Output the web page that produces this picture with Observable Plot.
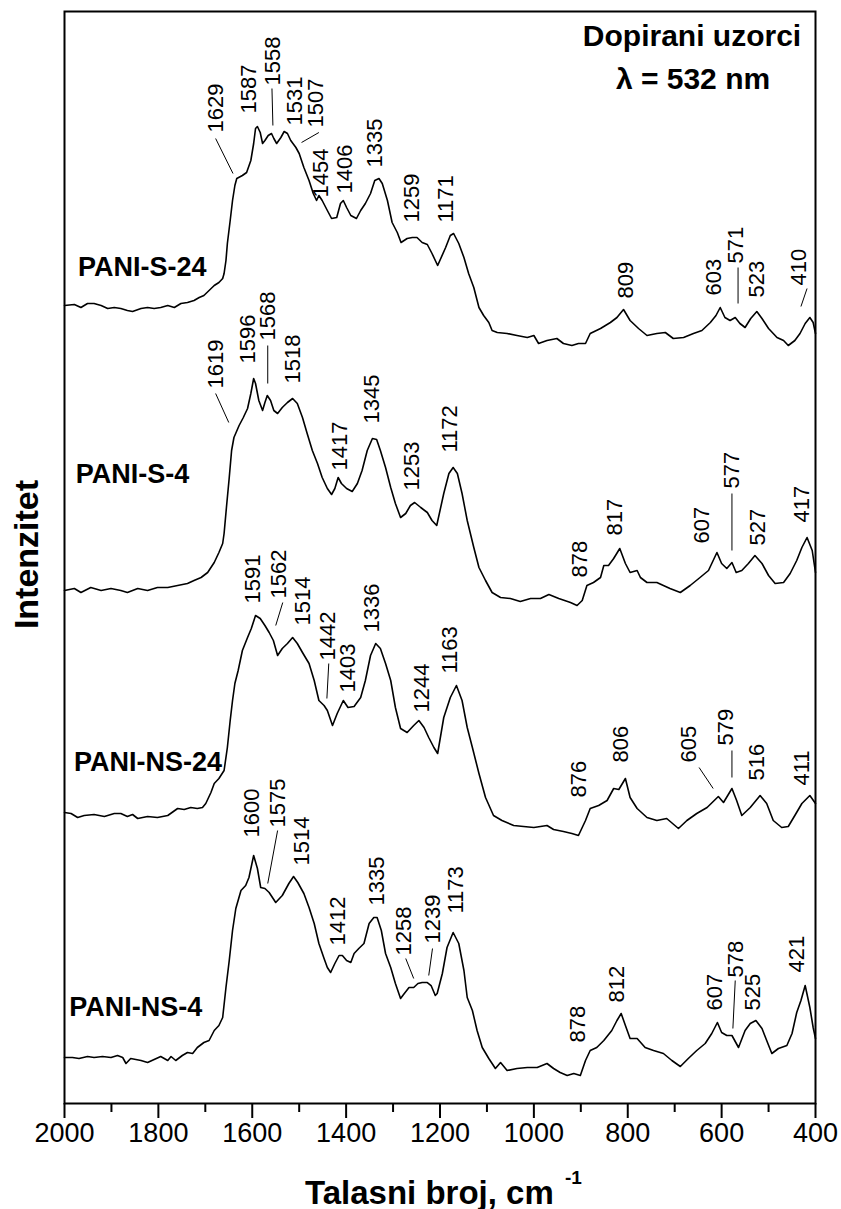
<!DOCTYPE html>
<html>
<head>
<meta charset="utf-8">
<script src="https://cdn.jsdelivr.net/npm/d3@7"></script>
<script src="https://cdn.jsdelivr.net/npm/@observablehq/plot@0.6"></script>
<style>
  html, body { margin: 0; padding: 0; background: #fff; }
  #chart svg { display: block; }
</style>
</head>
<body>
<div id="chart"></div>
<script>
// ---- data: [wavenumber (cm-1), intensity (a.u., stacked offset)] ----
const pani_s_24 = [[2000,798],[1979,799],[1965,796],[1951,800],[1937,800],[1922,798],[1908,795],[1894,796],[1880,795],[1866,793],[1855,792],[1837,795],[1823,796],[1809,795],[1795,796],[1780,798],[1766,796],[1752,800],[1738,801],[1724,803],[1713,806],[1703,808],[1692,813],[1681,818],[1671,821],[1663,825],[1660,830],[1656,843],[1653,860],[1647,883],[1642,903],[1637,918],[1633,925],[1621,928],[1612,931],[1603,943],[1597,960],[1593,975],[1589,977],[1583,971],[1578,960],[1573,963],[1566,968],[1559,970],[1554,965],[1548,960],[1539,966],[1532,972],[1525,970],[1518,963],[1507,956],[1500,950],[1490,936],[1479,923],[1470,910],[1463,903],[1458,908],[1451,903],[1440,893],[1431,885],[1420,886],[1412,900],[1406,903],[1399,896],[1390,888],[1378,885],[1369,893],[1359,900],[1348,910],[1339,923],[1330,925],[1323,920],[1312,903],[1302,881],[1291,871],[1283,861],[1270,865],[1259,866],[1249,866],[1238,861],[1227,859],[1217,850],[1205,838],[1188,856],[1178,868],[1171,870],[1160,860],[1149,846],[1139,830],[1128,816],[1117,796],[1107,788],[1096,781],[1089,773],[1078,771],[1057,770],[1036,768],[1014,766],[1000,768],[990,760],[972,763],[951,765],[937,760],[919,758],[905,760],[890,760],[880,770],[858,775],[837,781],[823,786],[809,794],[795,783],[777,775],[759,768],[738,770],[720,771],[703,765],[681,766],[660,770],[642,773],[624,781],[612,788],[603,796],[593,786],[582,783],[571,786],[561,780],[550,776],[538,785],[525,792],[514,785],[500,775],[482,766],[468,763],[458,758],[444,763],[433,770],[422,780],[412,786],[405,781],[400,770]];

const pani_s_4 = [[2000,513],[1979,515],[1965,511],[1944,516],[1922,513],[1901,515],[1880,513],[1866,511],[1844,515],[1823,513],[1802,516],[1780,516],[1759,518],[1738,520],[1724,523],[1709,526],[1695,531],[1681,541],[1671,551],[1663,560],[1660,570],[1655,596],[1649,626],[1644,653],[1639,666],[1628,678],[1619,686],[1610,695],[1603,710],[1597,725],[1593,720],[1586,703],[1578,693],[1573,701],[1568,708],[1561,703],[1554,693],[1546,690],[1536,696],[1525,701],[1514,705],[1504,700],[1493,686],[1483,670],[1472,653],[1461,640],[1451,626],[1440,615],[1431,609],[1424,615],[1417,626],[1410,620],[1399,615],[1387,612],[1376,620],[1366,633],[1355,653],[1344,665],[1335,664],[1327,653],[1316,636],[1305,616],[1295,600],[1284,586],[1273,590],[1263,598],[1254,601],[1241,596],[1227,591],[1217,583],[1207,578],[1192,610],[1181,630],[1172,636],[1163,630],[1153,610],[1142,583],[1128,556],[1117,536],[1103,523],[1089,511],[1071,506],[1050,505],[1029,502],[1007,505],[986,505],[968,509],[947,505],[922,501],[908,498],[897,503],[887,518],[873,521],[858,526],[851,538],[841,538],[830,545],[817,555],[805,540],[795,531],[780,533],[773,526],[759,521],[738,521],[710,515],[688,511],[667,518],[646,526],[628,533],[610,551],[600,540],[589,535],[578,541],[569,531],[557,533],[543,540],[529,548],[514,540],[500,528],[486,520],[468,521],[454,530],[440,543],[429,556],[418,566],[407,553],[400,531]];

const pani_ns_24 = [[2000,291],[1986,290],[1972,286],[1958,288],[1937,289],[1915,287],[1894,290],[1880,290],[1866,287],[1855,289],[1844,285],[1823,287],[1802,286],[1780,288],[1759,295],[1745,294],[1731,296],[1717,295],[1706,296],[1699,300],[1688,311],[1681,320],[1671,325],[1660,333],[1653,356],[1647,383],[1642,403],[1637,420],[1630,433],[1621,453],[1610,466],[1602,475],[1593,488],[1583,485],[1573,478],[1564,471],[1555,463],[1546,448],[1536,455],[1525,460],[1514,466],[1504,460],[1493,451],[1479,440],[1468,423],[1458,403],[1447,398],[1440,393],[1429,378],[1419,390],[1406,403],[1396,396],[1383,397],[1369,406],[1359,423],[1348,448],[1337,460],[1327,455],[1316,440],[1305,423],[1295,396],[1284,375],[1270,371],[1256,378],[1245,383],[1234,376],[1224,366],[1213,356],[1205,350],[1192,386],[1178,406],[1165,418],[1153,403],[1142,376],[1131,356],[1117,330],[1103,306],[1086,288],[1068,283],[1043,278],[1022,277],[1000,276],[972,278],[958,274],[937,272],[919,270],[905,268],[890,283],[880,295],[862,298],[844,303],[830,315],[819,314],[805,325],[795,306],[780,295],[759,286],[738,283],[717,285],[692,275],[674,283],[653,290],[631,296],[607,307],[596,301],[578,315],[568,303],[557,288],[539,296],[518,308],[504,300],[490,283],[472,276],[458,277],[444,288],[429,300],[412,308],[400,300]];

const pani_ns_4 = [[2000,46],[1983,46],[1969,45],[1951,47],[1937,46],[1919,47],[1901,46],[1887,48],[1876,46],[1869,40],[1859,45],[1837,43],[1823,41],[1809,44],[1795,47],[1780,43],[1773,47],[1763,43],[1749,48],[1738,51],[1727,50],[1717,56],[1703,61],[1692,63],[1681,73],[1671,78],[1663,86],[1656,116],[1649,143],[1642,173],[1635,195],[1624,213],[1614,218],[1607,226],[1597,248],[1589,235],[1582,216],[1573,215],[1564,211],[1550,201],[1536,208],[1522,220],[1512,227],[1503,221],[1490,210],[1479,196],[1468,180],[1458,160],[1447,145],[1440,136],[1433,131],[1424,140],[1415,148],[1408,148],[1399,143],[1390,141],[1383,150],[1373,155],[1362,160],[1351,180],[1341,186],[1334,186],[1325,173],[1316,150],[1305,136],[1295,120],[1284,105],[1276,110],[1266,116],[1256,116],[1247,120],[1238,121],[1227,121],[1219,118],[1210,108],[1206,110],[1195,130],[1185,156],[1172,171],[1160,160],[1149,133],[1142,106],[1131,93],[1121,73],[1110,56],[1096,45],[1082,35],[1071,41],[1057,33],[1036,35],[1014,36],[993,36],[972,40],[958,35],[944,31],[929,28],[915,30],[901,28],[890,43],[880,53],[866,56],[851,63],[834,73],[823,83],[814,90],[805,78],[795,65],[780,65],[763,56],[745,53],[724,50],[706,43],[688,37],[671,45],[653,53],[635,60],[621,70],[609,81],[600,71],[589,68],[578,68],[564,56],[550,73],[539,80],[527,83],[514,75],[504,63],[493,50],[479,55],[461,58],[450,70],[440,91],[431,103],[422,118],[412,96],[405,76],[400,65]];

// sample names: [name, wavenumber, intensity]
const sampleNames = [["PANI-S-24",1971,828],["PANI-S-4",1976,621],["PANI-NS-24",1980,333],["PANI-NS-4",1990,88]];

// peak annotations: [label, wavenumber, intensity]
const peaksS24 = [["1629",1678,971],["1587",1607,990],["1558",1556,1018],["1531",1510,978],["1507",1465,976],["1454",1454,906],["1406",1403,910],["1335",1339,936],["1259",1259,881],["1171",1188,881],["809",803,805],["603",616,808],["571",569,840],["523",524,806],["410",435,818]];
const peaksS4 = [["1619",1678,715],["1596",1610,740],["1568",1567,763],["1518",1514,720],["1417",1414,633],["1345",1344,680],["1253",1259,613],["1172",1178,651],["878",901,526],["817",827,568],["607",641,560],["577",578,615],["527",522,558],["417",429,581]];
const peaksNS24 = [["1591",1599,500],["1562",1544,505],["1514",1493,478],["1442",1439,443],["1403",1397,411],["1336",1344,471],["1244",1239,391],["1163",1178,430],["876",903,306],["806",814,341],["605",669,341],["579",590,358],["516",524,323],["411",429,318]];
const peaksNS4 = [["1600",1601,266],["1575",1546,276],["1514",1495,238],["1412",1418,158],["1335",1335,198],["1258",1276,148],["1239",1216,160],["1173",1167,190],["878",907,61],["812",824,101],["607",614,93],["578",569,126],["525",533,93],["421",439,131]];

// leader lines: [wn1, i1, wn2, i2]
const leaders = [[1678,965,1641,930],[1558,1015,1556,978],[1458,971,1495,961],[565,836,565,800],[418,815,431,797],
  [1678,710,1650,681],[1567,758,1567,720],[578,610,578,553],
  [1535,501,1550,478],[1437,440,1441,405],[648,336,618,315],[578,353,578,326],
  [1546,273,1567,220],[1273,145,1256,125],[1216,155,1224,128],[571,123,576,75]];

const majorTicks = [2000,1800,1600,1400,1200,1000,800,600,400];
const minorTicks = [1900,1700,1500,1300,1100,900,700,500];

const titleLines = ["Dopirani uzorci", "λ = 532 nm"];
const xLabel = "Talasni broj, cm";
const xLabelSup = "-1";
const yLabel = "Intenzitet";

const spectra = [pani_s_24, pani_s_4, pani_ns_24, pani_ns_4];
const peaks = [...peaksS24, ...peaksS4, ...peaksNS24, ...peaksNS4];

const font = "'Liberation Sans', Arial, Helvetica, sans-serif";

const chart = Plot.plot({
  width: 841,
  height: 1209,
  marginLeft: 64,
  marginRight: 26,
  marginTop: 11,
  marginBottom: 106,
  style: {fontFamily: font, fontSize: "27px", background: "#fff", color: "#000"},
  x: {domain: [2000, 400], ticks: majorTicks, tickSize: 15, tickPadding: 4, tickFormat: d3.format("d"), label: null},
  y: {domain: [0, 1092], axis: null},
  marks: [
    // minor ticks (9 px below the frame; 1 intensity unit = 1 px)
    Plot.ruleX(minorTicks, {x: d => d, y1: 0, y2: -9, stroke: "#000", strokeWidth: 2}),
    ...spectra.map(s => Plot.line(s, {x: d => d[0], y: d => d[1], stroke: "#000", strokeWidth: 1.6, strokeLinejoin: "round"})),
    Plot.link(leaders, {x1: d => d[0], y1: d => d[1], x2: d => d[2], y2: d => d[3], stroke: "#000", strokeWidth: 1}),
    Plot.text(peaks, {x: d => d[1], y: d => d[2], text: d => d[0], rotate: -90, textAnchor: "start", fontSize: 22, fill: "#000"}),
    Plot.text(sampleNames, {x: d => d[1], y: d => d[2], text: d => d[0], textAnchor: "start", lineAnchor: "bottom", fontSize: 27, fontWeight: "bold", fill: "#000"}),
    Plot.text([titleLines[0]], {frameAnchor: "top", dx: 252, dy: 34, textAnchor: "middle", lineAnchor: "bottom", fontSize: 30, fontWeight: "bold", fill: "#000"}),
    Plot.text([titleLines[1]], {frameAnchor: "top", dx: 253, dy: 77, textAnchor: "middle", lineAnchor: "bottom", fontSize: 30, fontWeight: "bold", fill: "#000"}),
    Plot.text([xLabel], {frameAnchor: "bottom", dx: -135, dy: 100, textAnchor: "start", lineAnchor: "bottom", fontSize: 33, fontWeight: "bold", fill: "#000"}),
    Plot.text([xLabelSup], {frameAnchor: "bottom", dx: 125, dy: 80, textAnchor: "start", lineAnchor: "bottom", fontSize: 19, fontWeight: "bold", fill: "#000"}),
    Plot.text([yLabel], {frameAnchor: "left", dx: -27, dy: -3, rotate: -90, textAnchor: "middle", lineAnchor: "bottom", fontSize: 34, fontWeight: "bold", fill: "#000"}),
    Plot.frame({stroke: "#000", strokeWidth: 2})
  ]
});
// thicker major ticks like the reference
chart.querySelectorAll("[aria-label='x-axis'] line, [aria-label='x-axis tick'] path").forEach(el => el.setAttribute("stroke-width", 2));
document.getElementById("chart").appendChild(chart);
</script>
</body>
</html>
